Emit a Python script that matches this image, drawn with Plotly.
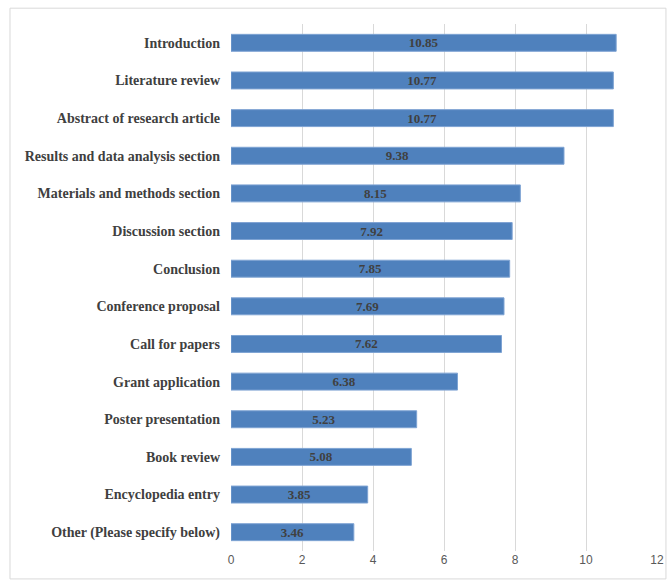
import plotly.graph_objects as go

# Survey categories (top to bottom) and their scores
categories = [
    "Introduction",
    "Literature review",
    "Abstract of research article",
    "Results and data analysis section",
    "Materials and methods section",
    "Discussion section",
    "Conclusion",
    "Conference proposal",
    "Call for papers",
    "Grant application",
    "Poster presentation",
    "Book review",
    "Encyclopedia entry",
    "Other (Please specify below)",
]
scores = [10.85, 10.77, 10.77, 9.38, 8.15, 7.92, 7.85, 7.69, 7.62, 6.38, 5.23, 5.08, 3.85, 3.46]
x_ticks = [0, 2, 4, 6, 8, 10, 12]

fig = go.Figure(
    go.Bar(
        x=scores,
        y=categories,
        orientation="h",
        marker=dict(color="#4f81bd", line=dict(color="#7ea3d3", width=1)),
        text=[f"{v:.2f}" for v in scores],
        textposition="inside",
        insidetextanchor="middle",
        textangle=0,
        textfont=dict(family="Liberation Serif", size=13, color="#404040", weight="bold"),
        hoverinfo="x+y",
    )
)

fig.update_layout(
    width=668,
    height=581,
    margin=dict(l=231, r=11, t=24, b=30),
    paper_bgcolor="white",
    plot_bgcolor="white",
    bargap=0.55,
    showlegend=False,
    uniformtext=dict(minsize=13, mode="show"),
    xaxis=dict(
        range=[0, 12],
        tickvals=x_ticks,
        showgrid=True,
        gridcolor="#d9d9d9",
        gridwidth=1,
        zeroline=False,
        showline=False,
        ticks="",
        automargin=False,
        tickfont=dict(family="Liberation Sans", size=12, color="#595959"),
    ),
    yaxis=dict(
        categoryorder="array",
        categoryarray=categories[::-1],
        showgrid=False,
        zeroline=False,
        showline=False,
        ticks="",
        automargin=False,
        ticklabelstandoff=10,
        tickfont=dict(family="Liberation Serif", size=14, color="#404040", weight="bold"),
    ),
    shapes=[
        dict(
            type="rect",
            xref="paper",
            yref="paper",
            x0=-0.5188,
            x1=1.021,
            y0=-0.053,
            y1=1.030,
            line=dict(color="#d9d9d9", width=1),
            fillcolor="rgba(0,0,0,0)",
            layer="below",
        )
    ],
)

fig.write_html("out.html")
